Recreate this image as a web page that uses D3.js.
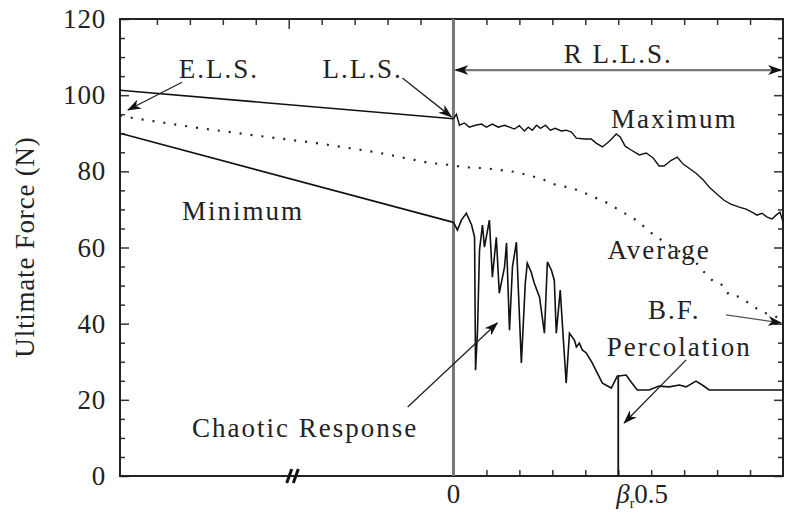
<!DOCTYPE html>
<html><head><meta charset="utf-8">
<script src="https://cdn.jsdelivr.net/npm/d3@7"></script>
<style>
body{margin:0;background:#fff;}
text{font-family:"Liberation Serif","Times New Roman",serif;fill:#222;}
</style></head>
<body><svg id="c" width="785" height="513"></svg>
<script>
// ---------- data ----------
const yTickValues = [0, 20, 40, 60, 80, 100, 120];
const yLabel = "Ultimate Force (N)";

// left (E.L.S. -> L.L.S.) region, x in [-1, 0]
const leftX = [-1.012, 0];
const leftMax = [101.3, 93.8];
const leftMin = [90.0, 66.6];
const leftAvgX = [-1.012, -0.988, -0.791, -0.609, -0.415, -0.233, -0.073, 0];
const leftAvg = [94.7, 94.2, 91.6, 89.5, 87.4, 85.0, 82.2, 81.6];

// right (R L.L.S.) region, x in [0, 1]
const maxX = [0,0.009,0.018,0.033,0.048,0.067,0.085,0.100,0.118,0.136,0.155,0.170,0.185,0.200,0.215,0.227,0.239,0.252,0.264,0.279,0.294,0.309,0.327,0.342,0.358,0.373,0.397,0.418,0.433,0.452,0.473,0.494,0.506,0.521,0.539,0.564,0.585,0.606,0.624,0.639,0.661,0.679,0.697,0.715,0.736,0.758,0.779,0.800,0.821,0.842,0.867,0.888,0.906,0.921,0.936,0.952,0.967,0.979,0.991,1.0];
const maxVals = [93.8,95.0,92.1,92.7,91.6,92.1,92.4,91.6,92.4,91.6,92.1,91.6,91.1,92.0,90.6,91.6,90.8,92.1,91.3,92.1,90.8,91.3,90.6,90.8,90.3,88.7,88.5,88.5,87.4,86.4,87.9,89.8,89.0,86.6,85.6,84.3,84.8,83.5,81.4,81.4,82.9,83.7,81.9,80.8,79.5,77.7,75.6,74.0,72.4,71.4,70.6,70.1,69.3,68.5,69.0,68.0,67.5,68.5,69.3,66.7];

const avgX = [0,0.027,0.100,0.191,0.261,0.312,0.361,0.412,0.467,0.503,0.539,0.564,0.588,0.618,0.670,0.730,0.761,0.791,0.818,0.836,0.861,0.897,0.936,0.967,1.0];
const avgVals = [81.6,81.1,80.8,79.8,78.2,76.4,75.6,73.8,71.7,69.8,68.0,66.7,64.6,62.7,59.8,56.7,53.5,50.9,50.1,47.5,47.2,45.4,43.0,42.3,40.9];

const minX = [0,0.012,0.024,0.039,0.055,0.064,0.067,0.073,0.079,0.088,0.094,0.109,0.118,0.130,0.139,0.155,0.161,0.170,0.179,0.191,0.206,0.218,0.224,0.236,0.245,0.261,0.276,0.285,0.297,0.306,0.312,0.324,0.333,0.342,0.352,0.367,0.373,0.382,0.391,0.403,0.421,0.452,0.479,0.497,0.524,0.539,0.558,0.594,0.624,0.655,0.685,0.706,0.736,0.755,0.776,1.0];
const minVals = [66.6,64.6,67.2,69.0,65.9,62.7,27.8,38.3,59.3,65.9,60.1,67.2,52.2,62.7,48.0,54.9,61.2,38.3,54.9,61.4,29.7,50.7,55.9,53.5,50.7,47.0,37.5,56.2,54.1,51.4,37.5,48.8,36.5,24.4,37.5,35.7,33.9,34.9,33.1,32.3,29.7,24.4,23.1,26.2,26.5,24.7,22.6,22.6,23.6,23.4,23.9,23.4,24.9,23.9,22.6,22.6];

const percolationX = 0.5;
const percolationTop = 26.5;

// annotations (data units)
const labelTexts = ["E.L.S.", "L.L.S.", "R L.L.S.", "Maximum", "Minimum", "Average", "B.F.", "Percolation", "Chaotic Response"];
const labelX = [-0.712, -0.276, 0.5, 0.67, -0.639, 0.624, 0.67, 0.685, -0.45];
const labelY = [104.5, 104.5, 108.5, 91.4, 67.3, 57.0, 41.2, 31.5, 10.2];

const arrowFromX = [-0.824, -0.155, 0.827, 0.706, -0.139];
const arrowFromY = [103.4, 104.5, 42.3, 30.5, 18.1];
const arrowToX = [-0.988, -0.006, 0.994, 0.518, 0.133];
const arrowToY = [96.1, 94.3, 40.2, 13.9, 40.2];
const spanArrow = [0.006, 0.994, 106.6]; // x1, x2, y

// ---------- drawing ----------
const svg = d3.select("#c");
const L = 120, R = 783, T = 19, B = 476;
const x = d3.scaleLinear().domain([-1.012, 1]).range([L, R]);
const y = d3.scaleLinear().domain([0, 120]).range([B, T]);

const defs = svg.append("defs");
defs.append("marker").attr("id","ah").attr("viewBox","0 0 14 10")
  .attr("refX",13).attr("refY",5).attr("markerWidth",14).attr("markerHeight",10)
  .attr("markerUnits","userSpaceOnUse").attr("orient","auto-start-reverse")
  .append("path").attr("d","M0,0 L14,5 L0,10 L4,5 Z").attr("fill","#111");

// axes ticks
const minorY = d3.range(0, 121, 5);
svg.append("g").attr("transform",`translate(${L},0)`)
  .call(d3.axisLeft(y).tickValues(minorY.filter(v=>v%20)).tickSize(-5).tickFormat(""))
  .call(g=>g.select(".domain").remove()).selectAll("line").attr("stroke","#333").attr("stroke-width",1.5);
svg.append("g").attr("transform",`translate(${L},0)`)
  .call(d3.axisLeft(y).tickValues(yTickValues).tickSize(-9).tickPadding(14))
  .call(g=>g.select(".domain").remove())
  .call(g=>g.selectAll("line").attr("stroke","#333").attr("stroke-width",1.5))
  .call(g=>g.selectAll("text").attr("font-size",27).attr("fill","#333").attr("letter-spacing",0.8));
svg.append("g").attr("transform",`translate(${R},0)`)
  .call(d3.axisRight(y).tickValues(minorY.filter(v=>v%20)).tickSize(-5).tickFormat(""))
  .call(g=>g.select(".domain").remove()).selectAll("line").attr("stroke","#333").attr("stroke-width",1.5);
svg.append("g").attr("transform",`translate(${R},0)`)
  .call(d3.axisRight(y).tickValues(yTickValues).tickSize(-9).tickFormat(""))
  .call(g=>g.select(".domain").remove()).selectAll("line").attr("stroke","#333").attr("stroke-width",1.5);

const bottomTicks = d3.range(1, 10).map(i => i/10);
svg.append("g").attr("transform",`translate(0,${B})`)
  .call(d3.axisBottom(x).tickValues(bottomTicks).tickSize(-6).tickFormat(""))
  .call(g=>g.select(".domain").remove()).selectAll("line").attr("stroke","#333").attr("stroke-width",1.5);
const topTicks = d3.range(-9, 10).filter(i=>i!==0 && i!==-5).map(i=>i/10);
svg.append("g").attr("transform",`translate(0,${T})`)
  .call(d3.axisTop(x).tickValues(topTicks).tickSize(-6).tickFormat(""))
  .call(g=>g.select(".domain").remove()).selectAll("line").attr("stroke","#333").attr("stroke-width",1.5);
svg.append("g").attr("transform",`translate(0,${T})`)
  .call(d3.axisTop(x).tickValues([-0.5]).tickSize(-10).tickFormat(""))
  .call(g=>g.select(".domain").remove()).selectAll("line").attr("stroke","#333").attr("stroke-width",1.5);

// frame
svg.append("rect").attr("x",L).attr("y",T).attr("width",R-L).attr("height",B-T)
  .attr("fill","none").attr("stroke","#222").attr("stroke-width",2);

// axis break mark
[-0.5, -0.48].forEach(v=>{
  svg.append("line").attr("x1",x(v)-2).attr("x2",x(v)+3).attr("y1",B+7).attr("y2",B-7)
    .attr("stroke","#111").attr("stroke-width",3);
});

// vertical line at 0 (L.L.S.)
svg.append("line").attr("x1",x(0)).attr("x2",x(0)).attr("y1",y(120)).attr("y2",y(0))
  .attr("stroke","#777").attr("stroke-width",3);
// percolation line
svg.append("line").attr("x1",x(percolationX)).attr("x2",x(percolationX)).attr("y1",y(percolationTop)).attr("y2",y(0))
  .attr("stroke","#111").attr("stroke-width",1.8);

const line = d3.line().x(d=>x(d[0])).y(d=>y(d[1]));
const zip = (a,b)=>a.map((v,i)=>[v,b[i]]);
svg.append("path").attr("d", line(zip(leftX,leftMax))).attr("fill","none").attr("stroke","#111").attr("stroke-width",1.6);
svg.append("path").attr("d", line(zip(leftX,leftMin))).attr("fill","none").attr("stroke","#111").attr("stroke-width",1.6);
svg.append("path").attr("d", line(zip(leftAvgX.concat(avgX.slice(1)),leftAvg.concat(avgVals.slice(1)))))
  .attr("fill","none").attr("stroke","#222").attr("stroke-width",2.2).attr("stroke-dasharray","2,9");
svg.append("path").attr("d", line(zip(maxX,maxVals))).attr("fill","none").attr("stroke","#111").attr("stroke-width",1.4);
svg.append("path").attr("d", line(zip(minX,minVals))).attr("fill","none").attr("stroke","#111").attr("stroke-width",1.6);

// arrows
arrowFromX.forEach((v,i)=>{
  svg.append("line").attr("x1",x(v)).attr("y1",y(arrowFromY[i]))
    .attr("x2",x(arrowToX[i])).attr("y2",y(arrowToY[i]))
    .attr("stroke", i===2 ? "#555" : "#222").attr("stroke-width",1.3)
    .attr("marker-end","url(#ah)");
});
svg.append("line").attr("x1",x(spanArrow[0])).attr("x2",x(spanArrow[1]))
  .attr("y1",y(spanArrow[2])).attr("y2",y(spanArrow[2]))
  .attr("stroke","#777").attr("stroke-width",2.2)
  .attr("marker-start","url(#ah)").attr("marker-end","url(#ah)");

// labels
labelTexts.forEach((t,i)=>{
  svg.append("text").attr("x",x(labelX[i])).attr("y",y(labelY[i]))
    .attr("text-anchor","middle").attr("font-size",27).attr("letter-spacing",2).text(t);
});

// x labels
svg.append("text").attr("x",x(0)).attr("y",503).attr("text-anchor","middle")
  .attr("font-size",27).attr("fill","#333").text("0");
const xl = svg.append("text").attr("x",x(0.5)-2).attr("y",503).attr("font-size",27).attr("fill","#333");
xl.append("tspan").attr("font-style","italic").text("β");
xl.append("tspan").attr("font-size",14).attr("dy",5).text("r");
xl.append("tspan").attr("dy",-5).text("0.5");

// y label
svg.append("text").attr("transform",`translate(34,247) rotate(-90)`)
  .attr("text-anchor","middle").attr("font-size",27).attr("fill","#444").attr("letter-spacing",0.8).text(yLabel);
</script></body></html>
